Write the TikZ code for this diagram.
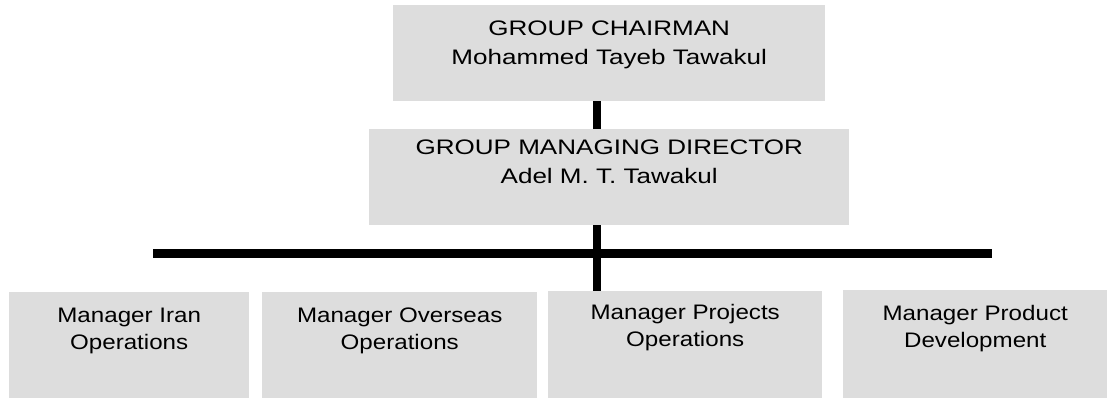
\documentclass[tikz,border=0pt]{standalone}
\usepackage{fontspec}
\setmainfont{Liberation Sans}
\newfontfamily\headfont{Liberation Sans}[FakeStretch=1.24]
\newfontfamily\mgrfont{Liberation Sans}[FakeStretch=1.15]
\usepackage{tikz}
\usetikzlibrary{positioning}
\definecolor{boxgray}{RGB}{221,221,221}

\begin{document}
\begin{tikzpicture}[x=1pt, y=-1pt,
  box/.style={shape=rectangle, fill=boxgray, inner sep=0pt, anchor=north west},
  lbl/.style={inner sep=0pt, align=center, font=\headfont\fontsize{21}{29}\selectfont},
  sublbl/.style={inner sep=0pt, align=center, font=\mgrfont\fontsize{21}{27}\selectfont},
  link/.style={line width=8.5pt}]
\useasboundingbox (0,0) rectangle (1107,398);
% top of the chart
\node[box, minimum width=432pt, minimum height=96pt] (chair) at (393,5) {};
\node[lbl, below=16pt of chair.north] (chairtxt) {GROUP CHAIRMAN\\Mohammed Tayeb Tawakul};
\node[box, minimum width=480pt, minimum height=96pt] (gmd) at (369,129) {};
\node[lbl, below=11pt of gmd.north] (gmdtxt) {GROUP MANAGING DIRECTOR\\Adel M. T. Tawakul};
% managers
\node[box, minimum width=240pt, minimum height=106pt] (iran) at (9,292) {};
\node[sublbl, below=16pt of iran.north] (irantxt) {Manager Iran\\Operations};
\node[box, minimum width=275pt, minimum height=106pt] (overseas) at (262,292) {};
\node[sublbl, below=16pt of overseas.north] (overseastxt) {Manager Overseas\\Operations};
\node[box, minimum width=274pt, minimum height=107pt] (projects) at (548,291) {};
\node[sublbl, below=13pt of projects.north] (projectstxt) {Manager Projects\\Operations};
\node[box, minimum width=264pt, minimum height=108pt] (product) at (843,290) {};
\node[sublbl, below=15pt of product.north] (producttxt) {Manager Product\\Development};
% connectors
\coordinate (trunk) at (597,0);
\coordinate (barL) at (153,253.5);
\coordinate (barR) at (992,253.5);
\draw[link] (chair.south -| trunk) -- (gmd.north -| trunk);
\draw[link] (gmd.south -| trunk) -- (projects.north -| trunk);
\draw[link] (barL) -- (barR);
\end{tikzpicture}
\end{document}
